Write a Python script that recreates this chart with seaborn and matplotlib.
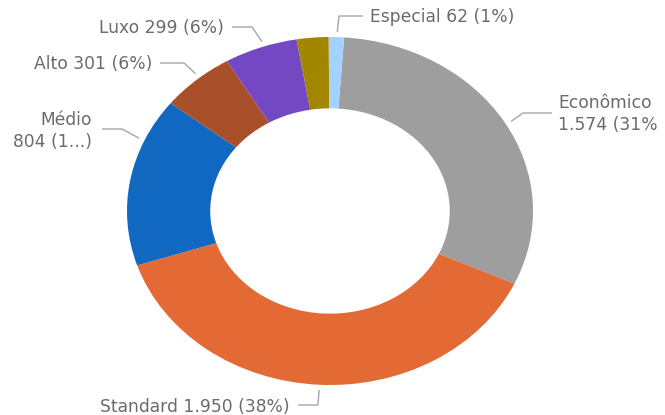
import numpy as np
import matplotlib
matplotlib.use("Agg")
import matplotlib.pyplot as plt
import seaborn as sns

categories = ["Econômico", "Standard", "Médio", "Alto", "Luxo", "Outro", "Especial"]
values = [1574, 1950, 804, 301, 299, 130, 62]
labels = ["Econômico\n1.574 (31%", "Standard 1.950 (38%)", "Médio\n804 (1...)",
          "Alto 301 (6%)", "Luxo 299 (6%)", "", "Especial 62 (1%)"]
colors = ["#9E9E9E", "#E36A35", "#1068C0", "#A9502A", "#7548C3", "#A38600", "#A3D2FF"]

sns.set_theme(style="white")
plt.rcParams['font.family'] = ['DejaVu Sans']

W, H = 665, 415
fig = plt.figure(figsize=(W / 100, H / 100), dpi=100)
ax = fig.add_axes([0, 0, 1, 1])
cx, cy, rx, ry = 330, 211, 203, 174

wedges, _ = ax.pie(values, colors=colors, startangle=86, counterclock=False,
                   radius=1.0, wedgeprops=dict(width=0.41, linewidth=0))
ax.set_aspect('auto')
ax.set_xlim(-cx / rx, (W - cx) / rx)
ax.set_ylim(-(H - cy) / ry, cy / ry)
ax.axis('off')

def px(x, y):
    return (x - cx) / rx, (cy - y) / ry

lc = "#A6A6A6"
tc = "#6B6B6B"
fs = 12.3
# (wedge idx, anchor angle on ring, elbow px, end px, text px, ha)
specs = [
    (0, 30, (523, 113), (552, 113), (558, 114), 'left'),
    (1, -93, (318, 405), (298, 405), (290, 407), 'right'),
    (2, 156, (122, 129), (102, 129), (92, 131), 'right'),
    (3, 130, (184, 63), (160, 63), (152, 64), 'right'),
    (4, 109, (252, 27), (232, 27), (224, 28), 'right'),
    (6, 88, (339, 16), (363, 16), (370, 17), 'left'),
]
for idx, a, elbow, end, tpos, ha in specs:
    ang = np.deg2rad(a)
    sx, sy = np.cos(ang) * 1.03, np.sin(ang) * 1.03
    ex, ey = px(*elbow)
    fx, fy = px(*end)
    ax.plot([sx, ex, fx], [sy, ey, fy], color=lc, lw=1.0, solid_capstyle='butt', clip_on=False)
    tx, ty = px(*tpos)
    ax.text(tx, ty, labels[idx], ha=ha, va='center', color=tc, fontsize=fs, linespacing=1.3, clip_on=False)

fig.savefig("out.png", dpi=100, facecolor='white')
